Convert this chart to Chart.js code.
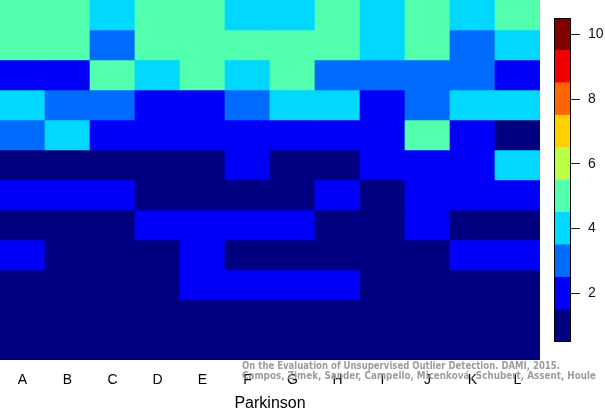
<!DOCTYPE html>
<html><head><meta charset="utf-8">
<script src="https://cdn.jsdelivr.net/npm/chart.js@4"></script>
<style>
html,body{margin:0;padding:0;background:#fff;}
#wrap{position:relative;width:605px;height:413px;overflow:hidden;background:#fff;}
#main{position:absolute;left:0;top:0;}
#cbar{position:absolute;left:540px;top:0;}
#wm{position:absolute;left:242px;top:361px;color:#9c9c9c;font-family:"DejaVu Sans Condensed","DejaVu Sans",sans-serif;font-weight:bold;font-size:11px;line-height:9.5px;white-space:nowrap;}
#wm div{transform-origin:0 0;display:inline-block;}
</style></head>
<body>
<div id="wrap">
<canvas id="main" width="605" height="413"></canvas>
<canvas id="cbar" width="65" height="413"></canvas>
<div id="wm"><div id="wm1">On the Evaluation of Unsupervised Outlier Detection. DAMI, 2015.</div><br><div id="wm2">Campos, Zimek, Sander, Campello, Micenková, Schubert, Assent, Houle</div></div>
</div>
<script>
// ---- data ----
const columns = ['A','B','C','D','E','F','G','H','I','J','K','L'];
// rows listed from top to bottom, one value (1-10 colour level) per column
const row1  = [5,5,4,5,5,4,4,5,4,5,4,5];
const row2  = [5,5,3,5,5,5,5,5,4,5,3,4];
const row3  = [2,2,5,4,5,4,5,3,3,3,3,2];
const row4  = [4,3,3,2,2,3,4,4,2,3,4,4];
const row5  = [3,4,2,2,2,2,2,2,2,5,2,1];
const row6  = [1,1,1,1,1,2,1,1,2,2,2,4];
const row7  = [2,2,2,1,1,1,1,2,1,2,2,2];
const row8  = [1,1,1,2,2,2,2,1,1,2,1,1];
const row9  = [2,1,1,1,2,1,1,1,1,1,2,2];
const row10 = [1,1,1,1,2,2,2,2,1,1,1,1];
const row11 = [1,1,1,1,1,1,1,1,1,1,1,1];
const row12 = [1,1,1,1,1,1,1,1,1,1,1,1];
const rows = [row1,row2,row3,row4,row5,row6,row7,row8,row9,row10,row11,row12];
const colorLevels = [1,2,3,4,5,6,7,8,9,10];
const levelColors = ['#000080','#0000F8','#006CFF','#00D8FF','#52FFAD','#BBFF45','#FFD000','#FF6600','#F00000','#800000'];
const colorbarTicks = [2,4,6,8,10];
const xTitle = 'Parkinson';

// ---- main heatmap ----
new Chart(document.getElementById('main').getContext('2d'), {
  type: 'bar',
  data: {
    labels: columns,
    datasets: rows.map((row, i) => ({
      data: row.map(() => [i, i + 1]),
      backgroundColor: row.map(v => levelColors[v - 1]),
      borderWidth: 0,
      barPercentage: 1,
      categoryPercentage: 1,
      grouped: false
    }))
  },
  options: {
    responsive: false,
    animation: false,
    layout: {padding: {left: 0, right: 65, top: 0, bottom: 0}},
    plugins: {legend: {display: false}, tooltip: {enabled: false}},
    scales: {
      x: {
        grid: {display: false, drawTicks: false},
        border: {display: false},
        ticks: {color: '#000', font: {family: 'Liberation Sans', size: 14}, padding: 12, maxRotation: 0, autoSkip: false},
        title: {display: true, text: xTitle, color: '#000', font: {family: 'Liberation Sans', size: 16}, padding: {top: 0, bottom: 0}},
        afterFit: s => { s.height = 53; }
      },
      y: {display: false, min: 0, max: 12, reverse: true}
    }
  }
});

// ---- colour bar ----
const frame = {
  id: 'frame',
  afterDatasetsDraw(chart) {
    const a = chart.chartArea, c = chart.ctx;
    c.save(); c.strokeStyle = '#000'; c.lineWidth = 1;
    c.strokeRect(Math.round(a.left) + 0.5, Math.round(a.top) + 0.5, Math.round(a.right - a.left) - 1, Math.round(a.bottom - a.top) - 1);
    c.restore();
  }
};
new Chart(document.getElementById('cbar').getContext('2d'), {
  type: 'bar',
  data: {
    labels: ['bar'],
    datasets: colorLevels.map((lv, i) => ({
      data: [[lv - 0.5, lv + 0.5]],
      backgroundColor: levelColors[i],
      borderWidth: 0,
      barPercentage: 1,
      categoryPercentage: 1,
      grouped: false
    }))
  },
  options: {
    responsive: false,
    animation: false,
    layout: {padding: {left: 14, top: 18, bottom: 71, right: 0}},
    plugins: {legend: {display: false}, tooltip: {enabled: false}},
    scales: {
      x: {display: false},
      y: {
        position: 'right', min: 0.5, max: 10.5,
        afterBuildTicks: s => { s.ticks = colorbarTicks.map(v => ({value: v})); },
        grid: {drawOnChartArea: false, tickLength: 9, tickColor: '#222', tickWidth: 1},
        border: {display: false},
        ticks: {color: '#111', font: {family: 'Liberation Sans', size: 14}, padding: 8},
        afterFit: s => { s.width = 34; }
      }
    }
  },
  plugins: [frame]
});

// fit each watermark line to its width in the reference
(function(){
  [['wm1', 318], ['wm2', 354]].forEach(([id, target]) => {
    const el = document.getElementById(id);
    const w = el.getBoundingClientRect().width;
    el.style.transform = 'scaleX(' + (target / w).toFixed(4) + ')';
  });
})();
</script>
</body></html>
